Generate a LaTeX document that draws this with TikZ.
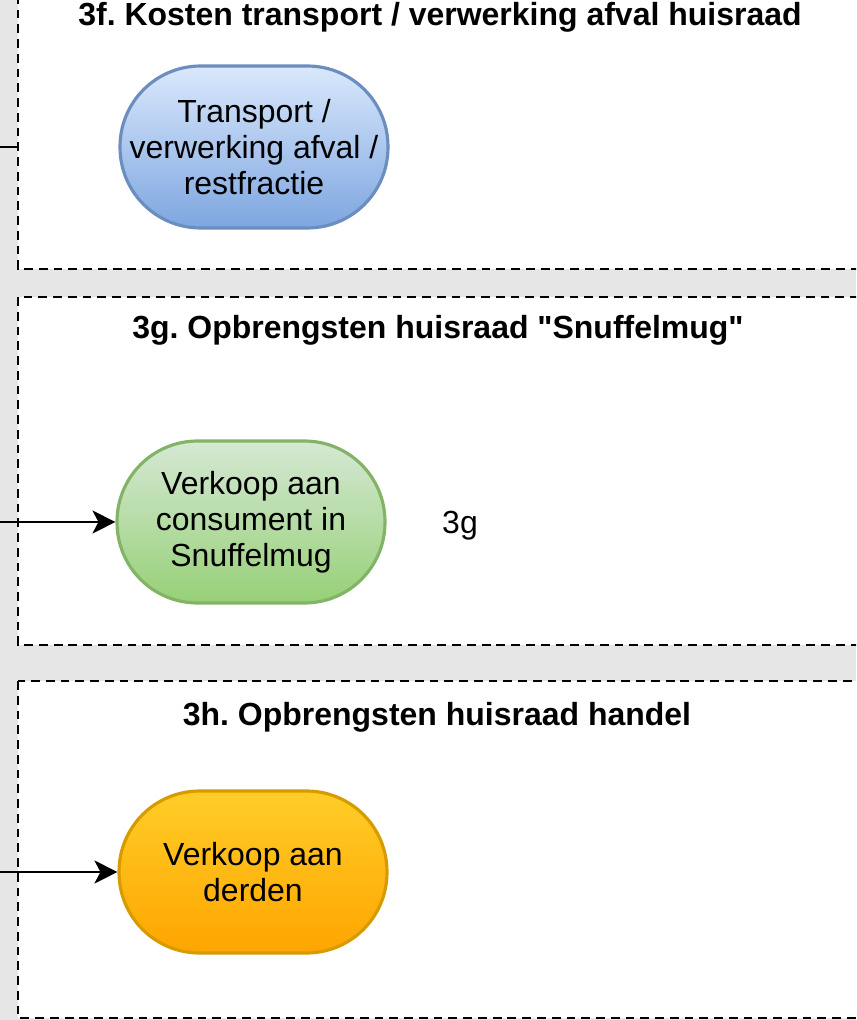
\documentclass[tikz,border=0pt]{standalone}
\usepackage{fontspec}
\setmainfont{Liberation Sans}
\frenchspacing
\usetikzlibrary{arrows.meta, positioning}
\definecolor{panelgray}{HTML}{E6E6E6}
\definecolor{bluetop}{HTML}{DAE8FC}
\definecolor{bluebottom}{HTML}{7EA6E0}
\definecolor{blueline}{HTML}{6C8EBF}
\definecolor{greentop}{HTML}{D5E8D4}
\definecolor{greenbottom}{HTML}{97D077}
\definecolor{greenline}{HTML}{82B366}
\definecolor{orangetop}{HTML}{FFCD28}
\definecolor{orangebottom}{HTML}{FFA500}
\definecolor{orangeline}{HTML}{D79B00}

\begin{document}
\begin{tikzpicture}[x=0.02cm, y=-0.02cm,
  panel/.style={draw=black, line width=1.5pt, dash pattern=on 5pt off 3.4pt, fill=white},
  process/.style={rectangle, rounded corners=1.61cm, minimum width=5.36cm, minimum height=3.24cm, line width=1.8pt, inner sep=0pt, align=center, font=\fontsize{18.2}{20.5}\selectfont},
  title/.style={font=\fontsize{18.2}{20.5}\selectfont\bfseries},
  link/.style={line width=1.2pt, -{Stealth[length=0.46cm, width=0.46cm, inset=0.12cm]}}]
\useasboundingbox (0,0) rectangle (856,1020);
\clip (0,0) rectangle (856,1020);
\fill[panelgray] (0,0) rectangle (856,1020);

\draw[panel] (18,-20) rectangle (880,269);
\draw[panel] (18,297) rectangle (880,645);
\draw[panel] (18,681) rectangle (880,1018);

\node[title] (titlef) at (440,17) {3f. Kosten transport / verwerking afval huisraad};
\node[title] (titleg) at (438,330) {3g. Opbrengsten huisraad \textquotedbl Snuffelmug\textquotedbl};
\node[title] (titleh) at (437,717) {3h. Opbrengsten huisraad handel};

\node[process, draw=blueline, top color=bluetop, bottom color=bluebottom] (transport) at (254,147) {Transport /\\verwerking afval /\\restfractie};
\node[process, draw=greenline, top color=greentop, bottom color=greenbottom] (verkoopc) at (251,522) {Verkoop aan\\consument in\\Snuffelmug};
\node[process, draw=orangeline, top color=orangetop, bottom color=orangebottom] (verkoopd) at (253,872) {Verkoop aan\\derden};
\node[font=\fontsize{18.2}{20.5}\selectfont] (labelg) at (460,526) {3g};

\coordinate (inf) at (0,147);
\coordinate (endf) at (18,147);
\coordinate (ing) at (0,522);
\coordinate (inh) at (0,872);

\draw[line width=1.2pt] (inf) -- (endf);
\draw[link] (ing) -- (verkoopc);
\draw[link] (inh) -- (verkoopd);
\end{tikzpicture}
\end{document}
